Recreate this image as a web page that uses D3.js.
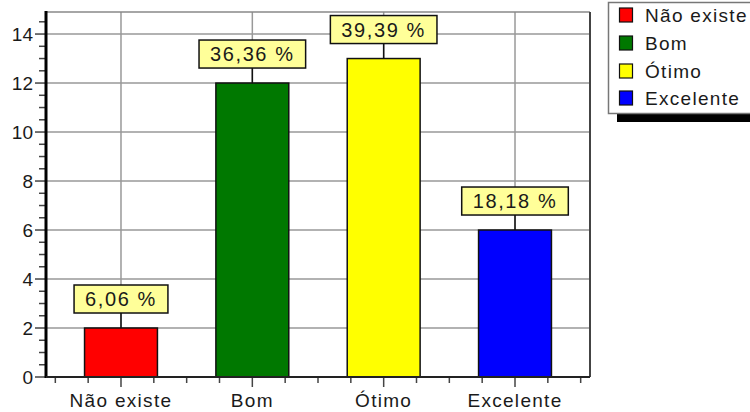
<!DOCTYPE html>
<html><head><meta charset="utf-8">
<script src="https://cdn.jsdelivr.net/npm/d3@7/dist/d3.min.js"></script>
<style>body{margin:0;background:#fff}svg{display:block}text{font-family:"Liberation Sans",Arial,sans-serif;fill:#1a1a1a}</style>
</head><body><svg id="c" width="750" height="412"></svg>
<script>
const categories = ["Não existe","Bom","Ótimo","Excelente"];
const values = [2,12,13,6];
const pctLabels = ["6,06 %","36,36 %","39,39 %","18,18 %"];
const colors = ["#ff0000","#007800","#ffff00","#0000ff"];
const yTicks = [0,2,4,6,8,10,12,14];

const svg = d3.select("#c");
const L=46, R=590, T=12, B=377;
const x = d3.scalePoint().domain(categories).range([L,R]).padding(0.571);
const y = d3.scaleLinear().domain([0,14.9]).range([B,T]);
const step = x.step();

// gridlines
svg.append("g").selectAll("line").data(yTicks.slice(1)).join("line")
  .attr("x1",L).attr("x2",R).attr("y1",d=>y(d)).attr("y2",d=>y(d))
  .attr("stroke","#999").attr("stroke-width",1.5);
svg.append("g").selectAll("line").data(categories).join("line")
  .attr("x1",d=>x(d)).attr("x2",d=>x(d)).attr("y1",T).attr("y2",B)
  .attr("stroke","#999").attr("stroke-width",1.5);

// border
svg.append("line").attr("x1",L).attr("x2",R).attr("y1",T).attr("y2",T).attr("stroke","#888").attr("stroke-width",1.5);
svg.append("line").attr("x1",R).attr("x2",R).attr("y1",T).attr("y2",B).attr("stroke","#444").attr("stroke-width",2);

// bars
const bw = step*0.555;
svg.append("g").selectAll("rect").data(values).join("rect")
  .attr("x",(d,i)=>x(categories[i])-bw/2).attr("width",bw)
  .attr("y",d=>y(d)).attr("height",d=>B-y(d))
  .attr("fill",(d,i)=>colors[i]).attr("stroke","#111").attr("stroke-width",1.5);

// value labels
const lg = svg.append("g");
values.forEach((v,i)=>{
  const cx = x(categories[i]);
  const top = y(v);
  const bh=28, gap=15;
  lg.append("line").attr("x1",cx).attr("x2",cx).attr("y1",top-gap).attr("y2",top).attr("stroke","#111").attr("stroke-width",1.5);
  const r = lg.append("rect");
  const t = lg.append("text").attr("x",cx).attr("y",top-gap-bh/2).attr("text-anchor","middle")
    .attr("dominant-baseline","central").style("font-size","20px").style("letter-spacing","1.6px").text(pctLabels[i]);
  const w = t.node().getComputedTextLength()+22;
  r.attr("x",cx-w/2).attr("y",top-gap-bh).attr("width",w).attr("height",bh)
    .attr("fill","#ffff99").attr("stroke","#111").attr("stroke-width",1.5);
});

// y axis
const yMinor = d3.range(0,15,0.5);
svg.append("g").selectAll("line").data(yMinor).join("line")
  .attr("x1",d=>d%2===0?35:39).attr("x2",L).attr("y1",d=>y(d)).attr("y2",d=>y(d))
  .attr("stroke","#444").attr("stroke-width",1.5);
svg.append("g").selectAll("text").data(yTicks).join("text")
  .attr("x",33).attr("y",d=>y(d)).attr("text-anchor","end").attr("dominant-baseline","central")
  .style("font-size","19px").text(d=>d);
svg.append("line").attr("x1",L).attr("x2",L).attr("y1",T-1).attr("y2",B+1).attr("stroke","#000").attr("stroke-width",3);

// x axis
const xMinor = d3.range(-2, 4*3+3).map(k=>x(categories[0])+k*step/4);
svg.append("g").selectAll("line").data(xMinor).join("line")
  .attr("x1",d=>d).attr("x2",d=>d).attr("y1",B).attr("y2",(d,i)=>(i-2)%4===0?B+10:B+6)
  .attr("stroke","#444").attr("stroke-width",1.5);
svg.append("line").attr("x1",L).attr("x2",R).attr("y1",B).attr("y2",B).attr("stroke","#222").attr("stroke-width",2);
svg.append("g").selectAll("text").data(categories).join("text")
  .attr("x",d=>x(d)).attr("y",407).attr("text-anchor","middle")
  .style("font-size","19px").style("letter-spacing","1.3px").text(d=>d);

// legend
const leg = svg.append("g");
leg.append("rect").attr("x",617).attr("y",114).attr("width",140).attr("height",8).attr("fill","#000");
leg.append("rect").attr("x",608.5).attr("y",2.5).attr("width",150).attr("height",111).attr("fill","#fff").attr("stroke","#777").attr("stroke-width",1.5);
const rowY = [15,43,71,98];
categories.forEach((c,i)=>{
  leg.append("rect").attr("x",619.5).attr("y",rowY[i]-7).attr("width",13).attr("height",14)
    .attr("fill",colors[i]).attr("stroke","#111").attr("stroke-width",1.2);
  leg.append("text").attr("x",645).attr("y",rowY[i]).attr("dominant-baseline","central")
    .style("font-size","19px").style("letter-spacing","1.3px").text(c);
});
</script></body></html>
